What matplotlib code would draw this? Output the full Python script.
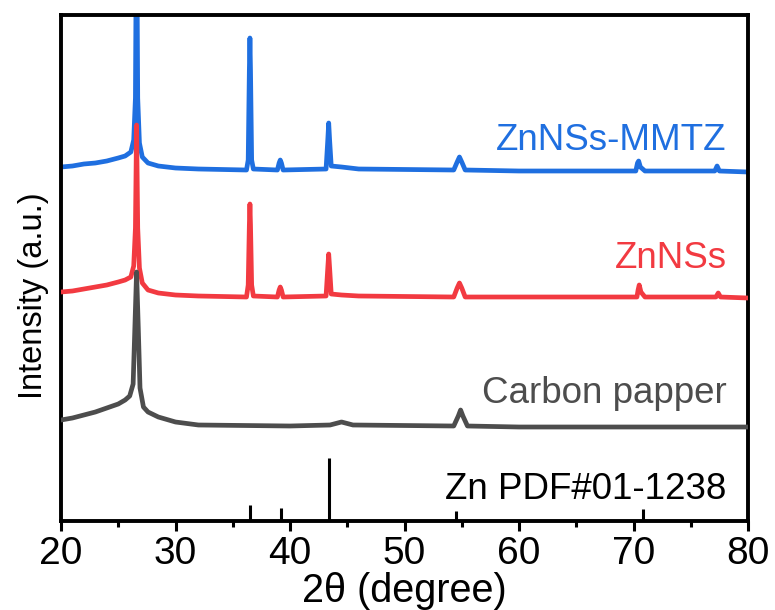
#XRD patterns of carbon paper, ZnNSs and ZnNSs-MMTZ with the Zn reference card
import matplotlib
matplotlib.use('Agg')
import matplotlib.pyplot as plt
from matplotlib.ticker import MultipleLocator

plt.rcParams['font.family'] = ['Liberation Sans', 'DejaVu Sans']

# ZnNSs-MMTZ (blue)
mmtz_2theta = [20.0, 21.0, 22.0, 23.0, 24.0, 25.0, 25.6, 26.1, 26.35, 26.5, 26.6, 26.7, 26.85, 27.1,
               27.6, 28.5, 30.0, 32.0,
               36.2, 36.35, 36.45, 36.5, 36.55, 36.65, 36.8, 38.9, 39.05, 39.15, 39.25, 39.4,
               43.15, 43.3, 43.38, 43.46, 43.6, 44.5, 46.0, 54.3, 54.6, 54.8, 55.0, 55.3,
               60.0, 70.2, 70.35, 70.45, 70.6, 71.0, 77.1, 77.3, 77.5, 80.0]
mmtz_int = [351, 352, 354, 355, 357, 360, 362, 366, 378, 420, 620, 420, 375, 361,
            355, 352, 350, 349,
            348, 358, 448, 480, 448, 358, 349, 348, 355, 358, 355, 348,
            349, 378, 395, 378, 352, 351, 349, 348, 356, 361, 356, 348,
            347, 347, 355, 357, 351, 347, 347, 352, 347, 346]

# ZnNSs (red)
zn_2theta = [20.0, 21.0, 22.0, 23.0, 24.0, 25.0, 25.6, 26.1, 26.35, 26.5, 26.6, 26.7, 26.85, 27.1,
             27.6, 28.5, 30.0, 32.0,
             36.2, 36.35, 36.45, 36.5, 36.55, 36.65, 36.8, 38.9, 39.05, 39.15, 39.25, 39.4,
             43.15, 43.3, 43.38, 43.46, 43.6, 44.5, 46.0, 54.3, 54.6, 54.8, 55.0, 55.3,
             60.0, 70.3, 70.4, 70.5, 70.65, 71.0, 77.2, 77.4, 77.6, 80.0]
zn_int = [226, 227, 229, 231, 233, 236, 238, 241, 252, 290, 393, 290, 250, 235,
          228, 225, 223, 222,
          221, 233, 293, 314, 293, 233, 222, 221, 228, 231, 228, 221,
          222, 250, 264, 250, 224, 223, 222, 221, 230, 235, 230, 221,
          221, 221, 228, 233, 226, 221, 221, 225, 221, 220]

# Carbon papper (grey)
cp_2theta = [20.0, 21.0, 22.0, 23.0, 24.0, 25.0, 25.6, 26.0, 26.3, 26.45, 26.6, 26.75, 26.9, 27.2,
             27.6, 28.5, 30.0, 32.0,
             40.0, 43.5, 44.5, 45.5, 54.3, 54.7, 54.9, 55.1, 55.5, 60.0, 70.0, 80.0]
cp_int = [98, 100, 103, 106, 110, 114, 118, 122, 134, 190, 246, 190, 130, 111,
          106, 101, 96, 93,
          92, 93, 96, 93, 92, 102, 108, 102, 92, 91, 91, 91]

# Zn PDF#01-1238 reference lines
pdf_2theta = [36.5, 39.2, 43.4, 54.5, 70.8]
pdf_int = [13, 10, 60, 7, 9]

labels = ['ZnNSs-MMTZ', 'ZnNSs', 'Carbon papper', 'Zn PDF#01-1238']
colors = ['#1f6fe0', '#f23a41', '#4d4d4d', 'black']
label_y = [368, 250, 115, 19]

fig = plt.figure(figsize=(7.75, 6.1), dpi=100)
ax = fig.add_axes([61 / 775, 89 / 610, 687 / 775, 506 / 610])

ax.plot(mmtz_2theta, mmtz_int, color=colors[0], lw=3.4, zorder=2)
ax.plot(zn_2theta, zn_int, color=colors[1], lw=3.4, zorder=3)
ax.plot(cp_2theta, cp_int, color=colors[2], lw=3.4, zorder=4)

ax.set_xlim(20, 80)
ax.set_ylim(-3, 503)
ax.vlines(pdf_2theta, ax.get_ylim()[0], pdf_int, color='black', lw=2.2, zorder=5)

for text, c, y in zip(labels, colors, label_y):
    ax.text(78.15, y, text, color=c, fontsize=26.5, ha='right', va='baseline')

#axes styling
for sp in ax.spines.values():
    sp.set_linewidth(2.8)
ax.xaxis.set_major_locator(MultipleLocator(10))
ax.xaxis.set_minor_locator(MultipleLocator(5))
ax.tick_params(axis='x', which='major', direction='out', length=7, width=2.2,
               labelsize=28, pad=4)
ax.tick_params(axis='x', which='minor', direction='out', length=4, width=2.2)
ax.set_yticks([])

ax.set_xlabel('2θ (degree)', fontsize=28.5, labelpad=0)
fig.text(34 / 775, 1 - 296 / 610, 'Intensity (a.u.)', fontsize=23.5, rotation=90,
         ha='center', va='center')

plt.savefig('out.png', dpi=100)
